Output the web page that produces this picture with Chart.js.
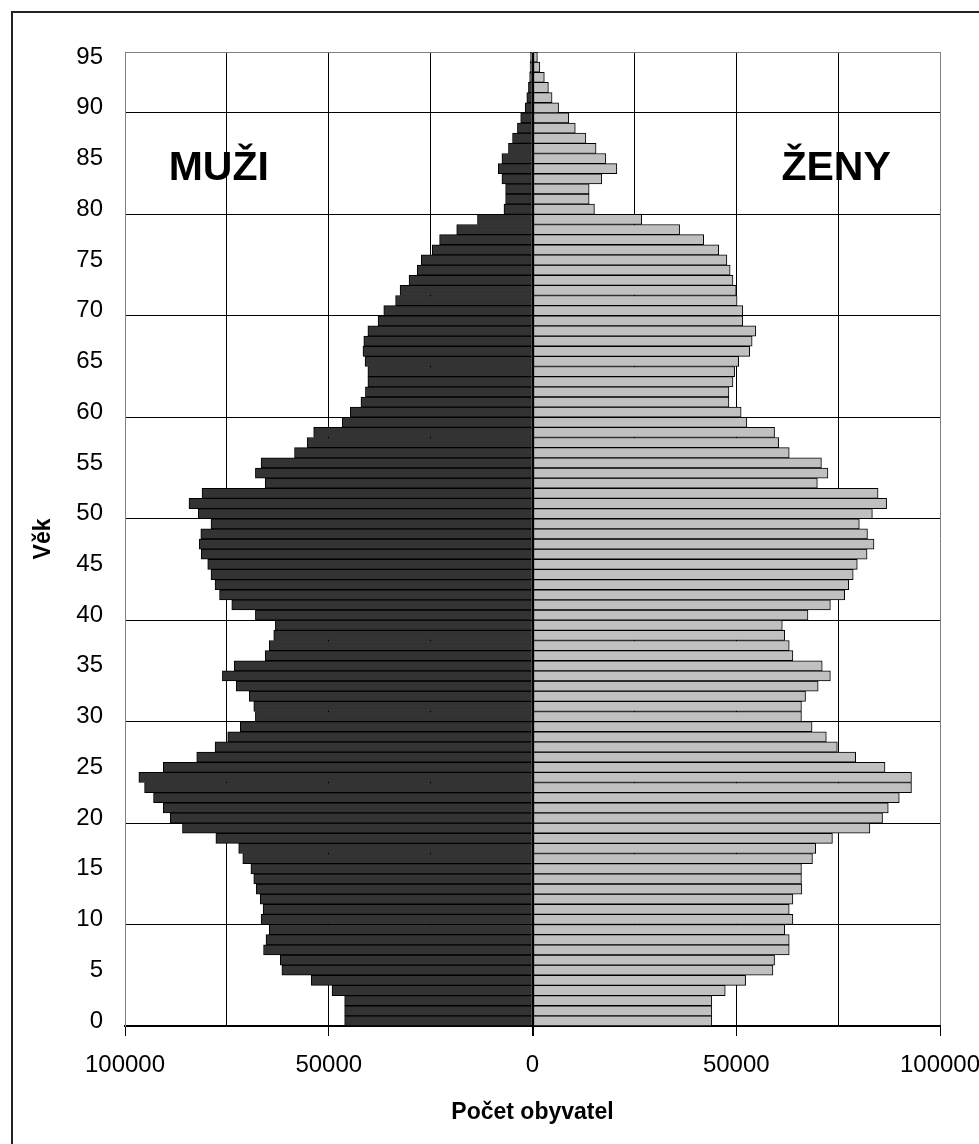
<!DOCTYPE html>
<html>
<head>
<meta charset="utf-8">
<title>Věková pyramida</title>
<script src="https://cdn.jsdelivr.net/npm/chart.js@4.4.0/dist/chart.umd.min.js"></script>
<style>
  html, body { margin: 0; padding: 0; overflow: hidden; background: #fff; }
  #frame { position: absolute; left: 11px; top: 11px; width: 1100px; height: 1300px; border: 2px solid #222; }
  #pyramid { position: absolute; left: 0; top: 0; }
</style>
</head>
<body>
<div id="frame"></div>
<canvas id="pyramid" width="979" height="1144"></canvas>
<script>
// ages 0..95 (bottom to top)
const ages = Array.from({ length: 96 }, (_, i) => i);

// men, by age 0..95
const men = [
  46100, 46100, 46100, 49200, 54300, 61500, 61900, 66000, 65400, 64600,
  66600, 66100, 66800, 67800, 68400, 69100, 71100, 72100, 77700, 85900,
  88900, 90600, 93000, 95200, 96600, 90600, 82400, 77900, 74800, 71700,
  68000, 68400, 69500, 72700, 76100, 73200, 65600, 64600, 63500, 63100,
  68000, 73800, 76800, 77900, 78900, 79700, 81300, 81800, 81400, 78900,
  82000, 84300, 81100, 65600, 68000, 66600, 58400, 55300, 53700, 46700,
  44700, 42100, 41000, 40400, 40400, 41100, 41600, 41400, 40400, 37900,
  36500, 33600, 32500, 30300, 28300, 27300, 24600, 22800, 18600, 13500,
  7000, 6600, 6600, 7500, 8400, 7500, 5900, 4900, 3700, 2900,
  1800, 1400, 1000, 700, 600, 500
];

// women, by age 0..95
const women = [
  44000, 44000, 44000, 47300, 52300, 59000, 59400, 63000, 63000, 61900,
  63900, 63000, 63900, 66100, 66000, 66000, 68700, 69500, 73600, 82800,
  85900, 87300, 90000, 93000, 93000, 86500, 79300, 74800, 72100, 68600,
  66000, 66000, 67000, 70100, 73100, 71100, 63900, 63000, 61900, 61300,
  67600, 73100, 76600, 77600, 78700, 79700, 82100, 83800, 82200, 80200,
  83400, 86900, 84800, 69900, 72500, 70900, 63000, 60400, 59400, 52600,
  51200, 48200, 48200, 49200, 49600, 50600, 53300, 53900, 54800, 51600,
  51600, 50200, 50000, 49200, 48500, 47700, 45700, 42000, 36100, 26800,
  15200, 13900, 13900, 17000, 20700, 18000, 15600, 13100, 10500, 8900,
  6400, 4800, 3900, 2900, 1800, 1200
];

const FONT = '"Liberation Sans", Arial, sans-serif';

// MUŽI / ŽENY inside the plot
const sexLabels = {
  id: 'sexLabels',
  afterDatasetsDraw(chart) {
    const { ctx, scales: { x, y } } = chart;
    ctx.save();
    ctx.font = 'bold 41px ' + FONT;
    ctx.fillStyle = '#000';
    ctx.textAlign = 'center';
    ctx.textBaseline = 'middle';
    ctx.fillText('MUŽI', x.getPixelForValue(-77000), y.getPixelForValue(84));
    ctx.fillText('ŽENY', x.getPixelForValue(74500), y.getPixelForValue(84));
    ctx.restore();
  }
};

new Chart(document.getElementById('pyramid'), {
  type: 'bar',
  data: {
    labels: ages,
    datasets: [
      {
        label: 'Muži',
        data: men.map(v => -v),
        backgroundColor: '#333333',
        borderColor: '#000',
        borderWidth: 1,
        borderSkipped: false,
        barPercentage: 1,
        categoryPercentage: 1
      },
      {
        label: 'Ženy',
        data: women,
        backgroundColor: '#c0c0c0',
        borderColor: '#000',
        borderWidth: 1,
        borderSkipped: false,
        barPercentage: 1,
        categoryPercentage: 1
      }
    ]
  },
  options: {
    indexAxis: 'y',
    responsive: false,
    animation: false,
    layout: { padding: { left: 0, right: 39, top: 52, bottom: 0 } },
    plugins: { legend: { display: false }, tooltip: { enabled: false } },
    scales: {
      x: {
        stacked: true,
        min: -100000,
        max: 100000,
        afterFit(scale) {
          scale.height = 118;
          scale.paddingLeft = 0;
          scale.paddingRight = 0;
        },
        ticks: {
          stepSize: 25000,
          padding: 15,
          color: '#000',
          font: { family: FONT, size: 24 },
          maxRotation: 0,
          autoSkip: false,
          callback: v => (v % 50000 === 0 ? String(Math.abs(v)) : '')
        },
        grid: {
          color: c => (Math.abs(c.tick.value) === 100000 ? '#808080' : '#000'),
          lineWidth: c => (c.tick.value === 0 ? 2 : 1),
          tickColor: c => (c.tick.value % 50000 === 0 ? '#000' : 'rgba(0,0,0,0)'),
          tickLength: 10
        },
        border: { display: true, color: '#000', width: 2 },
        title: {
          display: true,
          text: 'Počet obyvatel',
          color: '#000',
          font: { family: FONT, size: 23, weight: 'bold' },
          padding: { top: 0, bottom: 18 }
        }
      },
      y: {
        stacked: true,
        reverse: true,
        afterFit(scale) {
          scale.width = 125;
          scale.paddingTop = 0;
          scale.paddingBottom = 0;
        },
        ticks: {
          autoSkip: false,
          padding: 22,
          color: '#000',
          font: { family: FONT, size: 24 },
          callback(value) {
            const a = this.getLabelForValue(value);
            return a % 5 === 0 ? String(a) : '';
          }
        },
        grid: {
          offset: true,
          drawTicks: false,
          color: c => {
            if (c.index === undefined) return '#808080';
            return c.index % 10 === 0 ? '#000' : 'rgba(0,0,0,0)';
          }
        },
        border: { display: true, color: '#808080', width: 1 },
        title: {
          display: true,
          text: 'Věk',
          color: '#000',
          font: { family: FONT, size: 23, weight: 'bold' },
          padding: { top: 30, bottom: 0 }
        }
      }
    }
  },
  plugins: [sexLabels]
});
</script>
</body>
</html>
